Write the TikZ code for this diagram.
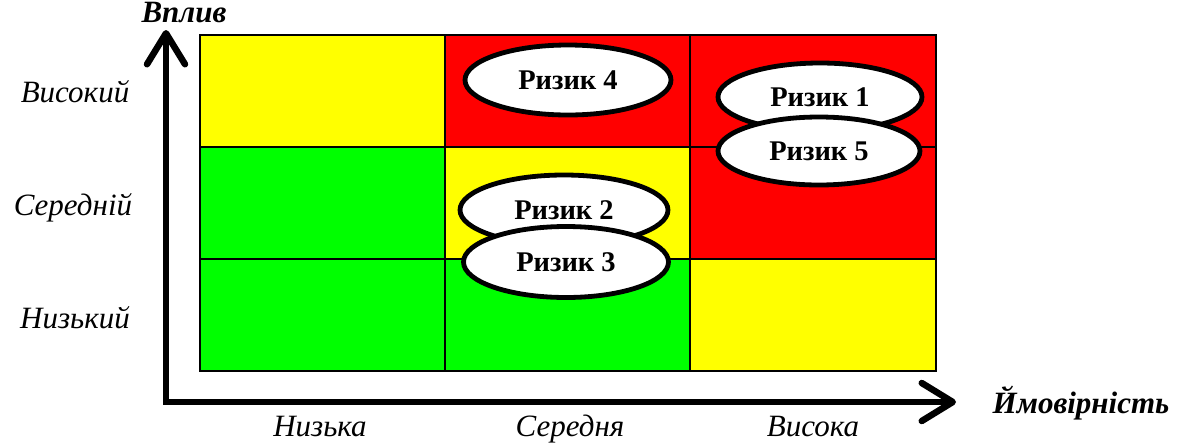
\documentclass[tikz,border=0pt]{standalone}
\usepackage{fontspec}
\setmainfont{Liberation Serif}
\usetikzlibrary{arrows.meta,shapes.geometric}
\definecolor{cY}{HTML}{FFFF00}
\definecolor{cR}{HTML}{FF0000}
\definecolor{cG}{HTML}{00FF00}
\tikzset{
  cell/.style={draw=black, line width=1.8},
  risk/.style={ellipse, draw=black, line width=4.8, fill=white, inner sep=0pt,
    font=\fontsize{28.5}{32}\selectfont\bfseries},
  axlabel/.style={anchor=base, font=\fontsize{31}{36}\selectfont\itshape},
  axtitle/.style={anchor=base, font=\fontsize{31}{36}\selectfont\bfseries\itshape},
  axis/.style={line width=6.5, line join=miter,
    {Straight Barb[length=31pt,width=38pt,round]}-{Straight Barb[length=31pt,width=38pt,round]}}
}
\begin{document}
\begin{tikzpicture}[x=1pt,y=-1pt]
\useasboundingbox (0,0) rectangle (1179,445);
% grid
\fill[cY] (200,35) rectangle (445,147);
\fill[cR] (445,35) rectangle (690,147);
\fill[cR] (690,35) rectangle (936,147);
\fill[cG] (200,147) rectangle (445,259);
\fill[cY] (445,147) rectangle (690,259);
\fill[cR] (690,147) rectangle (936,259);
\fill[cG] (200,259) rectangle (445,371);
\fill[cG] (445,259) rectangle (690,371);
\fill[cY] (690,259) rectangle (936,371);
\draw[cell] (200,35) rectangle (936,371);
\draw[cell] (445,35) -- (445,371) (690,35) -- (690,371)
            (200,147) -- (936,147) (200,259) -- (936,259);
% axes
\coordinate (ytop) at (166,30);
\coordinate (orig) at (166,402);
\coordinate (xend) at (956,402);
\draw[axis] (ytop) -- (orig) -- (xend);
% axis titles
\node[axtitle] (tImp) at (184,22) {Вплив};
\node[axtitle] (tProb) at (1081,413) {Ймовірність};
% labels
\node[axlabel] (lHi) at (75,102) {Високий};
\node[axlabel] (lMid) at (73,215) {Середній};
\node[axlabel] (lLo) at (75,328) {Низький};
\node[axlabel] (bLo) at (320,436) {Низька};
\node[axlabel] (bMid) at (570,436) {Середня};
\node[axlabel] (bHi) at (813,436) {Висока};
% risks
\node[risk, minimum width=206, minimum height=70] (r4) at (568,80) {Ризик 4};
\node[risk, minimum width=204, minimum height=68] (r1) at (820,97) {Ризик 1};
\node[risk, minimum width=202, minimum height=68] (r5) at (819,151) {Ризик 5};
\node[risk, minimum width=208, minimum height=70] (r2) at (564,210) {Ризик 2};
\node[risk, minimum width=205, minimum height=71] (r3) at (566,262) {Ризик 3};
\end{tikzpicture}
\end{document}
